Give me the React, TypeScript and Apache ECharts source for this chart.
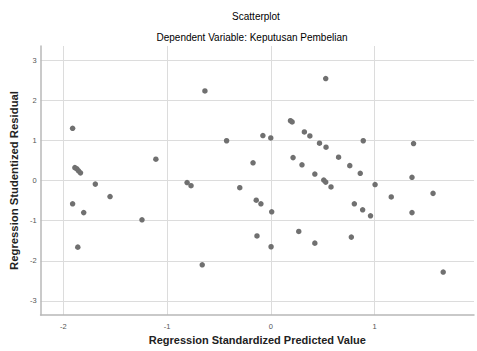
import React, { useEffect, useRef } from "react";
import * as echarts from "echarts";

const titleText = "Scatterplot";
const subtitleText = "Dependent Variable: Keputusan Pembelian";
const xAxisName = "Regression Standardized Predicted Value";
const yAxisName = "Regression Studentized Residual";

const predicted: number[] = [
  -1.911, -1.889, -1.87, -1.854, -1.835, -1.692, -1.55, -1.911, -1.804, -1.242,
  -1.861, -1.108, -0.635, -0.426, -0.171, -0.807, -0.769, -0.299, -0.14, -0.133,
  -0.661, 0.53, 0.19, 0.206, 0.324, 0.377, -0.076, 0.0, 0.47, 0.533,
  0.892, 1.377, 0.215, 0.301, 0.654, 0.762, 0.425, 0.511, 0.863, 1.362,
  0.53, 0.581, 1.006, 1.565, 1.162, -0.095, 0.009, 0.806, 0.886, 0.962,
  1.362, 0.27, 0.425, 0.777, 0.003, 1.663,
];
const residual: number[] = [
  1.3, 0.32, 0.29, 0.24, 0.19, -0.09, -0.4, -0.58, -0.8, -0.98,
  -1.66, 0.53, 2.23, 0.99, 0.44, -0.05, -0.13, -0.18, -0.49, -1.38,
  -2.1, 2.54, 1.49, 1.46, 1.21, 1.11, 1.12, 1.06, 0.93, 0.83,
  0.99, 0.92, 0.57, 0.39, 0.58, 0.37, 0.16, 0.01, 0.18, 0.08,
  -0.04, -0.16, -0.1, -0.32, -0.41, -0.58, -0.78, -0.58, -0.73, -0.88,
  -0.8, -1.27, -1.56, -1.41, -1.65, -2.28,
];

const X_MIN = -2.22;
const X_MAX = 1.96;
const Y_MIN = -3.35;
const Y_MAX = 3.35;

const FONT = "'Liberation Sans', Arial, sans-serif";

export default function App() {
  const ref = useRef<HTMLDivElement>(null);
  useEffect(() => {
    if (!ref.current) return;
    const chart = echarts.init(ref.current, undefined, { renderer: "svg" });
    const data = predicted.map((x, i) => [x, residual[i]]);
    const intLabel = (v: number) =>
      Math.abs(v - Math.round(v)) < 1e-6 ? String(Math.round(v)) : "";
    chart.setOption({
      animation: false,
      backgroundColor: "#ffffff",
      grid: { left: 38, top: 46, right: 0, bottom: 36, containLabel: false },
      graphic: [
        {
          type: "text",
          x: 256,
          y: 16.5,
          style: {
            text: titleText,
            textAlign: "center",
            textVerticalAlign: "middle",
            font: `10px ${FONT}`,
            fill: "#000",
          },
        },
        {
          type: "text",
          x: 252,
          y: 37,
          style: {
            text: subtitleText,
            textAlign: "center",
            textVerticalAlign: "middle",
            font: `10px ${FONT}`,
            fill: "#000",
          },
        },
      ],
      xAxis: {
        type: "value",
        min: X_MIN,
        max: X_MAX,
        minInterval: 1,
        maxInterval: 1,
        name: xAxisName,
        nameLocation: "middle",
        nameGap: 13,
        nameTextStyle: { fontFamily: FONT, fontWeight: "bold", fontSize: 11, color: "#222", verticalAlign: "top" },
        axisLine: { show: true, onZero: false, lineStyle: { color: "#b8b8b8", width: 1.5 } },
        axisTick: { show: false },
        axisLabel: { formatter: intLabel, fontFamily: FONT, fontSize: 7.5, color: "#555", margin: 7 },
        splitLine: { show: true, showMinLine: false, showMaxLine: false, lineStyle: { color: "#dcdcdc", width: 1 } },
      },
      yAxis: {
        type: "value",
        min: Y_MIN,
        max: Y_MAX,
        minInterval: 1,
        maxInterval: 1,
        name: yAxisName,
        nameLocation: "middle",
        nameGap: 20,
        nameRotate: 90,
        nameTextStyle: { fontFamily: FONT, fontWeight: "bold", fontSize: 11.3, color: "#222" },
        axisLine: { show: true, onZero: false, lineStyle: { color: "#b8b8b8", width: 1.5 } },
        axisTick: { show: false },
        axisLabel: { formatter: intLabel, fontFamily: FONT, fontSize: 7.5, color: "#555", margin: 4 },
        splitLine: { show: true, showMinLine: false, showMaxLine: false, lineStyle: { color: "#dcdcdc", width: 1 } },
      },
      series: [
        {
          type: "scatter",
          data,
          symbol: "circle",
          symbolSize: 5.5,
          itemStyle: { color: "#707070", opacity: 1 },
          emphasis: { disabled: true },
        },
      ],
    });
    return () => chart.dispose();
  }, []);
  return (
    <div
      ref={ref}
      style={{ position: "fixed", left: 0, top: 0, width: 477, height: 351, background: "#fff" }}
    />
  );
}
